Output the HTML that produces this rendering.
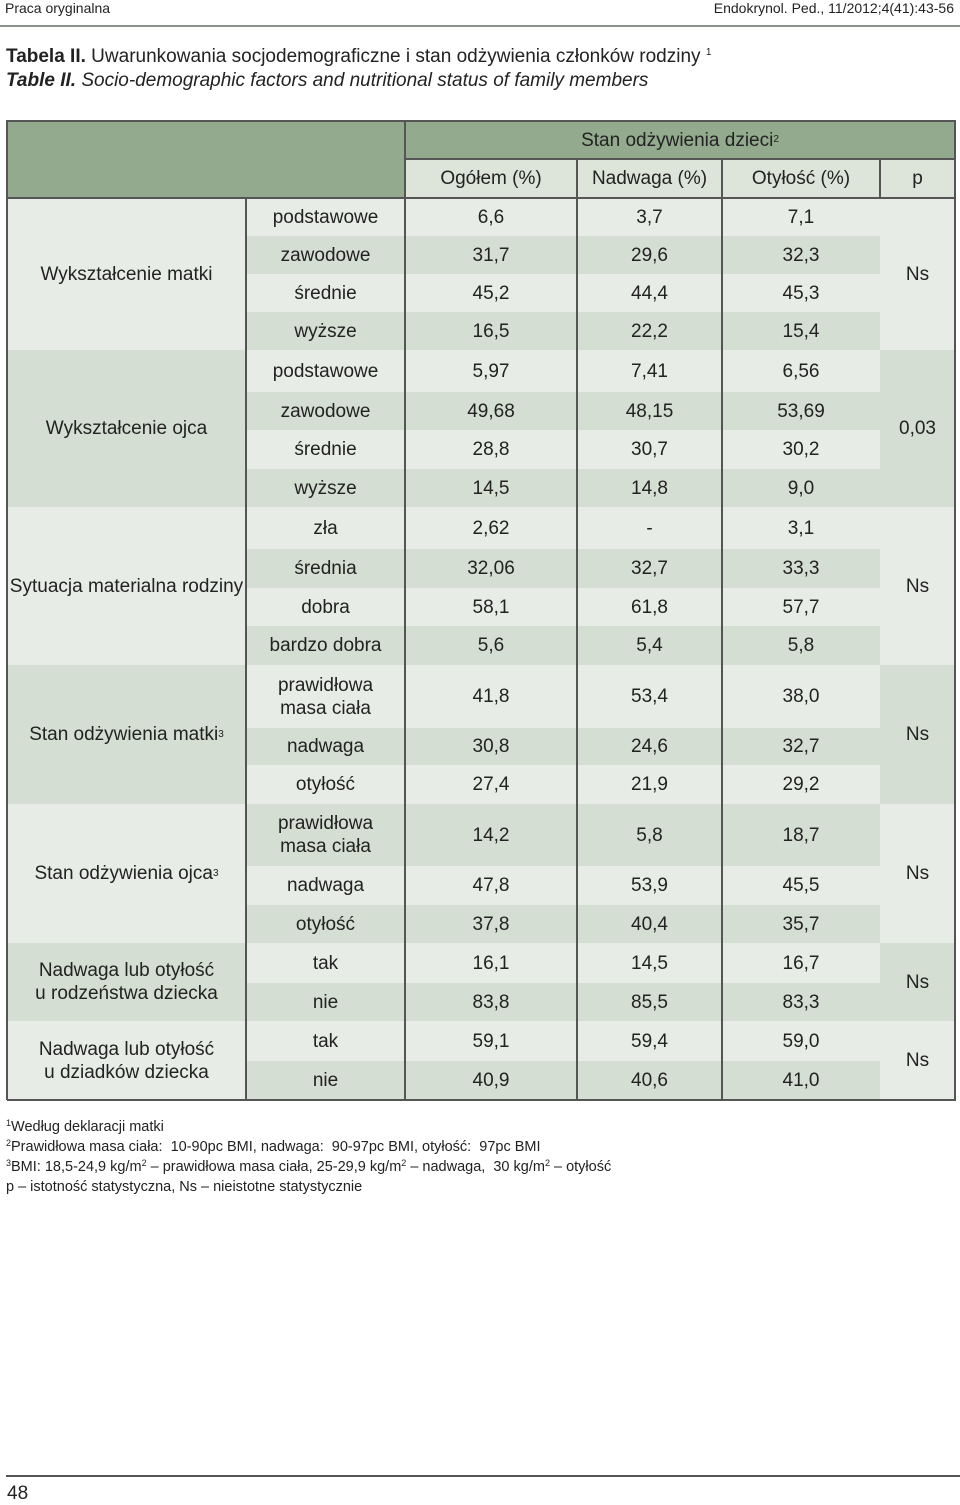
<!DOCTYPE html>
<html><head><meta charset="utf-8">
<style>
body{margin:0;width:960px;height:1505px;background:#fff;position:relative;font-family:"Liberation Sans Narrow","Liberation Sans",sans-serif;color:#222;overflow:hidden}
.a{position:absolute;box-sizing:border-box}
.c{display:flex;align-items:center;justify-content:center;text-align:center;font-size:19px;line-height:23px}
.L{background:#e8ece7}.D{background:#d5ded2}
sup{font-size:10px;vertical-align:7px;line-height:0}
.vl{position:absolute;width:2px;background:#555}
.hl{position:absolute;height:2px;background:#555}
</style></head><body>
<div class="a" style="left:5px;top:0;font-size:14px">Praca oryginalna</div>
<div class="a" style="right:6px;top:0;font-size:14px">Endokrynol. Ped., 11/2012;4(41):43-56</div>
<div class="a" style="left:0;top:25px;width:960px;height:2px;background:#8a918a"></div>
<div class="a" style="left:6px;top:46px;font-size:19px"><b>Tabela II.</b> Uwarunkowania socjodemograficzne i stan odżywienia członków rodziny <sup>1</sup></div>
<div class="a" style="left:6px;top:70px;font-size:19px;font-style:italic"><b>Table II.</b> Socio-demographic factors and nutritional status of family members</div>

<div id="tbl"></div>

<div class="a" style="left:6px;top:1117px;font-size:14.5px;line-height:20px">
<div><sup style="font-size:9px;vertical-align:5px">1</sup>Według deklaracji matki</div>
<div><sup style="font-size:9px;vertical-align:5px">2</sup>Prawidłowa masa ciała:&nbsp; 10-90pc BMI, nadwaga:&nbsp; 90-97pc BMI, otyłość:&nbsp; 97pc BMI</div>
<div><sup style="font-size:9px;vertical-align:5px">3</sup>BMI: 18,5-24,9 kg/m<sup style="font-size:9px;vertical-align:5px">2</sup> – prawidłowa masa ciała, 25-29,9 kg/m<sup style="font-size:9px;vertical-align:5px">2</sup> – nadwaga,&nbsp; 30 kg/m<sup style="font-size:9px;vertical-align:5px">2</sup> – otyłość</div>
<div>p – istotność statystyczna, Ns – nieistotne statystycznie</div>
</div>
<div class="a" style="left:6px;top:1475px;width:954px;height:2px;background:#555"></div>
<div class="a" style="left:7px;top:1483px;font-size:19px">48</div>

<script>
const groups=["Wykształcenie matki","Wykształcenie ojca","Sytuacja materialna rodziny","Stan odżywienia matki<sup>3</sup>","Stan odżywienia ojca<sup>3</sup>","Nadwaga lub otyłość<br>u rodzeństwa dziecka","Nadwaga lub otyłość<br>u dziadków dziecka"];
const pvals=["Ns","0,03","Ns","Ns","Ns","Ns","Ns"];
const cats=[["podstawowe","zawodowe","średnie","wyższe"],["podstawowe","zawodowe","średnie","wyższe"],["zła","średnia","dobra","bardzo dobra"],["prawidłowa<br>masa ciała","nadwaga","otyłość"],["prawidłowa<br>masa ciała","nadwaga","otyłość"],["tak","nie"],["tak","nie"]];
const ogolem=[["6,6","31,7","45,2","16,5"],["5,97","49,68","28,8","14,5"],["2,62","32,06","58,1","5,6"],["41,8","30,8","27,4"],["14,2","47,8","37,8"],["16,1","83,8"],["59,1","40,9"]];
const nadwaga=[["3,7","29,6","44,4","22,2"],["7,41","48,15","30,7","14,8"],["-","32,7","61,8","5,4"],["53,4","24,6","21,9"],["5,8","53,9","40,4"],["14,5","85,5"],["59,4","40,6"]];
const otylosc=[["7,1","32,3","45,3","15,4"],["6,56","53,69","30,2","9,0"],["3,1","33,3","57,7","5,8"],["38,0","32,7","29,2"],["18,7","45,5","35,7"],["16,7","83,3"],["59,0","41,0"]];
// layout
const rowH=[[38,38,38,38],[42,38,39,38],[42,39,38,39],[63,37,39],[62,39,38],[40,38],[40,39]];
const rowShade=[["L","D","L","D"],["L","D","L","D"],["L","D","L","D"],["L","D","L"],["D","L","D"],["L","D"],["L","D"]];
const X=[7,246,405,577,722,880,955];
const T=document.getElementById('tbl');
function cell(x,y,w,h,cls,html,name){const d=document.createElement('div');d.className='a c '+cls;d.style.cssText=`left:${x}px;top:${y}px;width:${w}px;height:${h}px`;d.innerHTML=html;


T.appendChild(d);return d;}
// header
cell(X[0],121,X[2]-X[0],77,'','', 'header-blank').style.background='#93aa8e';
cell(X[2],121,X[6]-X[2],38,'','Stan odżywienia dzieci<sup>2</sup>','header-group').style.background='#93aa8e';
const hd=["Ogółem (%)","Nadwaga (%)","Otyłość (%)","p"];
hd.forEach((t,i)=>{cell(X[2+i],159,X[3+i]-X[2+i],39,'',t,'column-header').style.background='#dde4da';});
let y=198;
groups.forEach((g,gi)=>{
  const tot=rowH[gi].reduce((a,b)=>a+b,0);
  const gs=gi%2?'D':'L';
  cell(X[0],y,X[1]-X[0],tot,gs,g,'group-label');
  cell(X[5],y,X[6]-X[5],tot,gs,pvals[gi],'p-value');
  let yy=y;
  cats[gi].forEach((c,ri)=>{
    const h=rowH[gi][ri],s=rowShade[gi][ri];
    cell(X[1],yy,X[2]-X[1],h,s,c,'category-label');
    cell(X[2],yy,X[3]-X[2],h,s,ogolem[gi][ri],'value-ogolem');
    cell(X[3],yy,X[4]-X[3],h,s,nadwaga[gi][ri],'value-nadwaga');
    cell(X[4],yy,X[5]-X[4],h,s,otylosc[gi][ri],'value-otylosc');
    yy+=h;
  });
  y+=tot;
});
const bottom=y;
function line(cls,x,yt,w,h){const d=document.createElement('div');d.className=cls;d.style.left=x+'px';d.style.top=yt+'px';if(w!=null)d.style.width=w+'px';if(h!=null)d.style.height=h+'px';


T.appendChild(d);}
line('hl',X[0],120,X[6]-X[0]+1,null);
line('hl',X[0],bottom-1,X[6]-X[0]+1,null);
line('hl',X[2],158,X[6]-X[2],null);
line('hl',X[0],197,X[6]-X[0],null);
line('vl',X[0]-1,120,null,bottom-120);
line('vl',X[6]-1,120,null,bottom-120);
line('vl',X[1]-1,197,null,bottom-197);
line('vl',X[2]-1,120,null,bottom-120);
line('vl',X[3]-1,158,null,bottom-158);
line('vl',X[4]-1,158,null,bottom-158);
line('vl',X[5]-1,158,null,40);
</script>
</body></html>
